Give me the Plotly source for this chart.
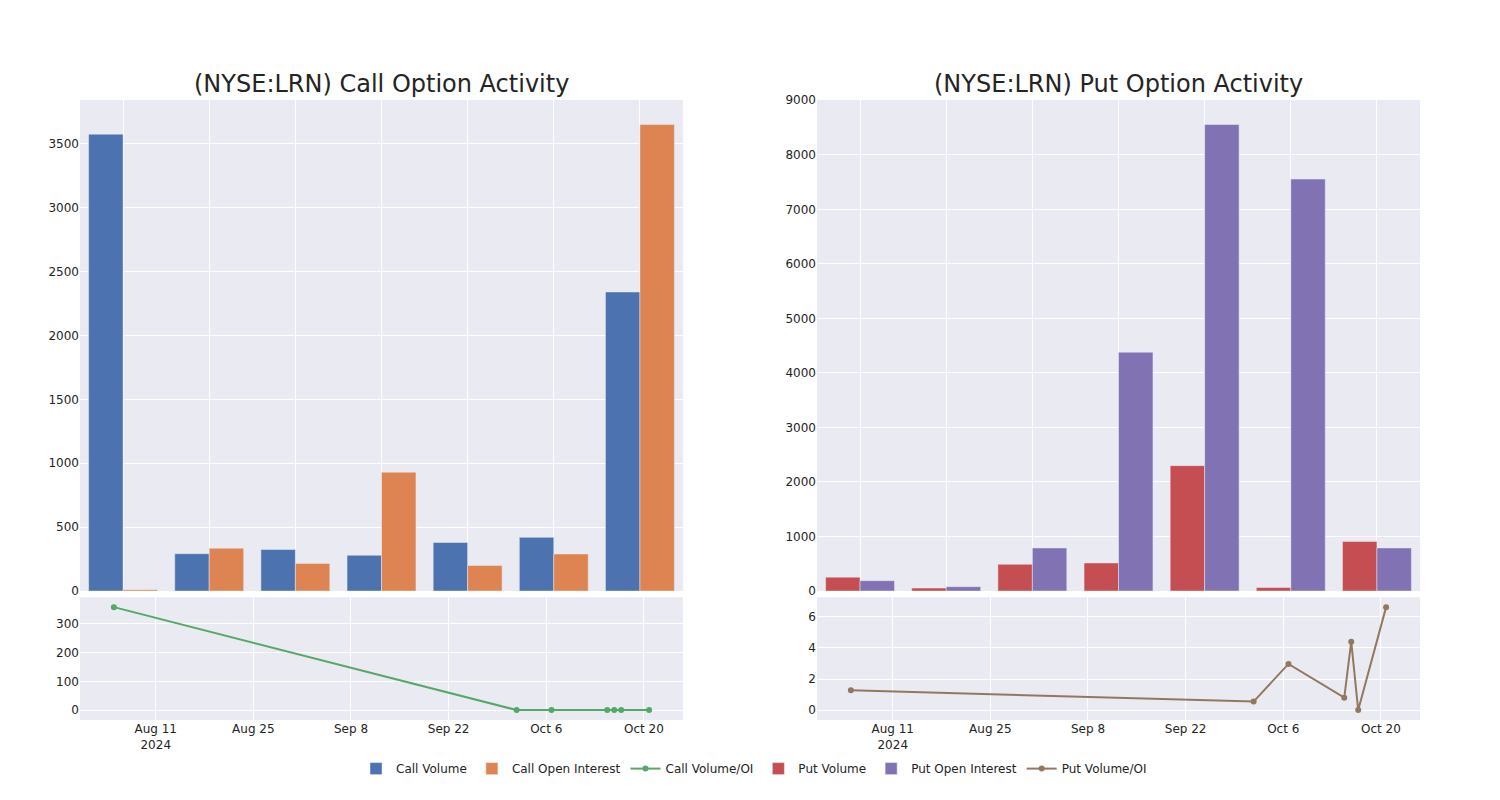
import plotly.graph_objects as go
from plotly.subplots import make_subplots

# Bar-chart groups (categorical, labels hidden)
groups = ["G1", "G2", "G3", "G4", "G5", "G6", "G7"]
call_volume = [3575, 292, 325, 280, 380, 420, 2340]
call_oi = [10, 335, 215, 930, 200, 290, 3650]
put_volume = [255, 55, 490, 515, 2300, 65, 910]
put_oi = [190, 80, 790, 4380, 8555, 7555, 790]

# Ratio lines (date axis)
ratio_dates = ["2024-08-05", "2024-10-01 18:00", "2024-10-06 18:00", "2024-10-14 18:00",
               "2024-10-15 18:00", "2024-10-16 18:00", "2024-10-20 18:00"]
call_ratio = [357, 0.6, 0.9, 0.4, 1.2, 0.5, 0.6]
put_ratio = [1.27, 0.55, 2.97, 0.8, 4.4, 0.0, 6.62]

fig = make_subplots(
    rows=2, cols=2,
    row_heights=[0.8, 0.2],
    vertical_spacing=0.01,
    horizontal_spacing=0.1,
    subplot_titles=("(NYSE:LRN) Call Option Activity", "(NYSE:LRN) Put Option Activity", "", ""),
)

fig.add_trace(go.Bar(x=groups, y=call_volume, name="Call Volume"), row=1, col=1)
fig.add_trace(go.Bar(x=groups, y=call_oi, name="Call Open Interest"), row=1, col=1)
fig.add_trace(go.Scatter(x=ratio_dates, y=call_ratio, mode="lines+markers", name="Call Volume/OI"), row=2, col=1)
fig.add_trace(go.Bar(x=groups, y=put_volume, name="Put Volume"), row=1, col=2)
fig.add_trace(go.Bar(x=groups, y=put_oi, name="Put Open Interest"), row=1, col=2)
fig.add_trace(go.Scatter(x=ratio_dates, y=put_ratio, mode="lines+markers", name="Put Volume/OI"), row=2, col=2)

fig.update_xaxes(showticklabels=False, row=1)
fig.update_xaxes(type="date", row=2)

fig.update_layout(
    template="seaborn",
    font=dict(family="DejaVu Sans"),
    width=1492, height=792,
    margin=dict(l=72, r=80, t=92, b=80),
    legend=dict(orientation="h", x=0.503, xanchor="center", y=-0.055, yanchor="top"),
)
for ann in fig.layout.annotations:
    ann.font = dict(size=24, family="DejaVu Sans")

fig.write_html("out.html")
